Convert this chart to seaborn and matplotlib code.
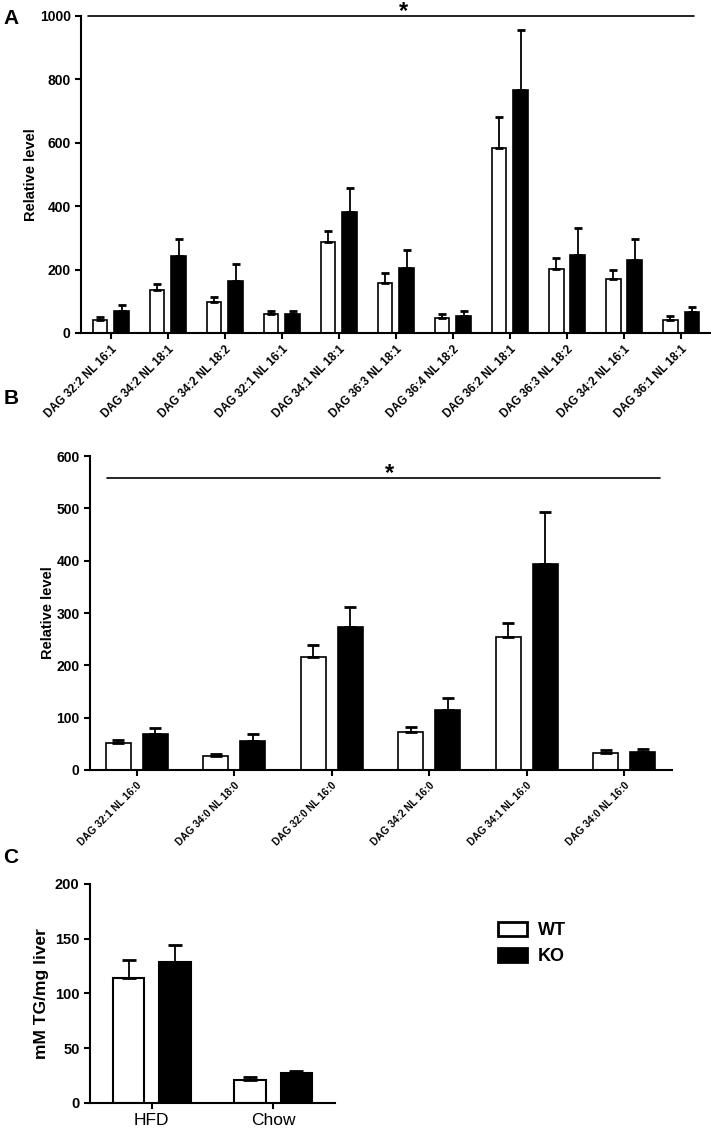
import matplotlib
matplotlib.use("Agg")
import matplotlib.pyplot as plt
import seaborn as sns
import pandas as pd

groups = ["WT", "KO"]

a_labels = ["DAG 32:2 NL 16:1", "DAG 34:2 NL 18:1", "DAG 34:2 NL 18:2", "DAG 32:1 NL 16:1",
            "DAG 34:1 NL 18:1", "DAG 36:3 NL 18:1", "DAG 36:4 NL 18:2", "DAG 36:2 NL 18:1",
            "DAG 36:3 NL 18:2", "DAG 34:2 NL 16:1", "DAG 36:1 NL 18:1"]
a_wt = [42, 137, 97, 61, 286, 157, 48, 584, 202, 169, 41]
a_wt_err = [8, 16, 17, 8, 36, 32, 13, 96, 33, 29, 13]
a_ko = [68, 242, 165, 61, 383, 206, 54, 765, 246, 231, 65]
a_ko_err = [21, 56, 52, 8, 75, 57, 15, 192, 85, 67, 17]

b_labels = ["DAG 32:1 NL 16:0", "DAG 34:0 NL 18:0", "DAG 32:0 NL 16:0",
            "DAG 34:2 NL 16:0", "DAG 34:1 NL 16:0", "DAG 34:0 NL 16:0"]
b_wt = [51, 27, 216, 73, 254, 32]
b_wt_err = [7, 3, 23, 10, 27, 7]
b_ko = [68, 56, 273, 114, 394, 34]
b_ko_err = [12, 12, 39, 24, 99, 7]

c_labels = ["HFD", "Chow"]
c_wt = [114, 21]
c_wt_err = [17, 3]
c_ko = [129, 27]
c_ko_err = [15, 2]

sns.set_style("white")
plt.rcParams["font.family"] = ["Liberation Sans", "DejaVu Sans"]
plt.rcParams["font.weight"] = "bold"
for key in ["text.color", "axes.labelcolor", "xtick.color", "ytick.color"]:
    plt.rcParams[key] = "black"

palette = {"WT": "white", "KO": "black"}


def make_df(labels, wt, ko):
    return pd.DataFrame({
        "cat": labels * 2,
        "group": ["WT"] * len(labels) + ["KO"] * len(labels),
        "value": list(wt) + list(ko),
    })


def draw_panel(ax, labels, wt, wt_err, ko, ko_err, capsize, lw):
    df = make_df(labels, wt, ko)
    sns.barplot(data=df, x="cat", y="value", hue="group", hue_order=groups,
                palette=palette, edgecolor="black", linewidth=lw,
                width=0.76, gap=0.32, errorbar=None, legend=False, ax=ax,
                saturation=1)
    # upper-only error bars placed at the bar centres seaborn computed
    for container, err in zip(ax.containers, [wt_err, ko_err]):
        xs = [p.get_x() + p.get_width() / 2 for p in container.patches]
        ys = [p.get_height() for p in container.patches]
        ax.errorbar(xs, ys, yerr=[[0] * len(err), err], fmt="none",
                    ecolor="black", elinewidth=1.3, capsize=capsize,
                    capthick=2, zorder=1)
    sns.despine(ax=ax)
    for s in ["left", "bottom"]:
        ax.spines[s].set_linewidth(1.5)
        ax.spines[s].set_color("black")
    ax.tick_params(axis="both", direction="out", length=4, width=1.5,
                   color="black", left=True, bottom=True)
    ax.set_xlabel("")


def significance(ax, y, xmin, xmax, xstar):
    ax.axhline(y, xmin=xmin, xmax=xmax, color="black", lw=1.2, clip_on=False)
    ax.annotate("*", xy=(xstar, y), xycoords=ax.get_yaxis_transform(),
                xytext=(0, -1.5), textcoords="offset points", fontsize=17,
                fontweight="bold", ha="center", va="baseline",
                annotation_clip=False)


fig = plt.figure(figsize=(7.11, 11.33), dpi=100)

# Panel A
axA = fig.add_axes([0.114, 0.7061, 0.884, 0.2798])
draw_panel(axA, a_labels, a_wt, a_wt_err, a_ko, a_ko_err, 3.2, 1.2)
axA.set_xlim(-0.52, 10.5)
axA.set_ylim(0, 1000)
axA.set_yticks([0, 200, 400, 600, 800, 1000])
axA.tick_params(axis="y", labelsize=10)
axA.set_xticks(range(len(a_labels)))
axA.set_xticklabels(a_labels, rotation=45, ha="right", rotation_mode="anchor",
                    fontsize=8.3, fontweight="bold")
axA.set_ylabel("Relative level", fontsize=10.5, fontweight="bold", labelpad=1)
significance(axA, 1000, 0.011, 0.975, 0.513)

# Panel B
axB = fig.add_axes([0.1266, 0.3204, 0.8184, 0.2771])
draw_panel(axB, b_labels, b_wt, b_wt_err, b_ko, b_ko_err, 4.3, 1.2)
axB.set_xlim(-0.48, 5.49)
axB.set_ylim(0, 600)
axB.set_yticks([0, 100, 200, 300, 400, 500, 600])
axB.tick_params(axis="y", labelsize=10)
axB.set_xticks(range(len(b_labels)))
axB.set_xticklabels(b_labels, rotation=45, ha="right", rotation_mode="anchor",
                    fontsize=7.3, fontweight="bold")
axB.set_ylabel("Relative level", fontsize=10.5, fontweight="bold", labelpad=1)
significance(axB, 558, 0.03, 0.98, 0.515)

# Panel C
axC = fig.add_axes([0.1266, 0.0265, 0.3446, 0.1933])
draw_panel(axC, c_labels, c_wt, c_wt_err, c_ko, c_ko_err, 5, 1.5)
axC.set_xlim(-0.51, 1.51)
axC.set_ylim(0, 200)
axC.set_yticks([0, 50, 100, 150, 200])
axC.tick_params(axis="y", labelsize=10.5)
axC.tick_params(axis="x", labelsize=12.5)
for t in axC.get_xticklabels():
    t.set_fontweight("normal")
axC.set_ylabel("mM TG/mg liver", fontsize=12.5, fontweight="bold", labelpad=4)

handles = [plt.Rectangle((0, 0), 1, 1, facecolor=palette[g], edgecolor="black", lw=2)
           for g in groups]
fig.legend(handles, groups, loc="center left", bbox_to_anchor=(0.678, 0.167),
           frameon=False, handlelength=1.6, handleheight=0.8,
           labelspacing=0.5, handletextpad=0.6, prop={"weight": "bold", "size": 13})

for letter, y in [("A", 0.984), ("B", 0.648), ("C", 0.243)]:
    fig.text(0.005, y, letter, fontsize=15, fontweight="bold", va="center")

fig.savefig("out.png", dpi=100)
